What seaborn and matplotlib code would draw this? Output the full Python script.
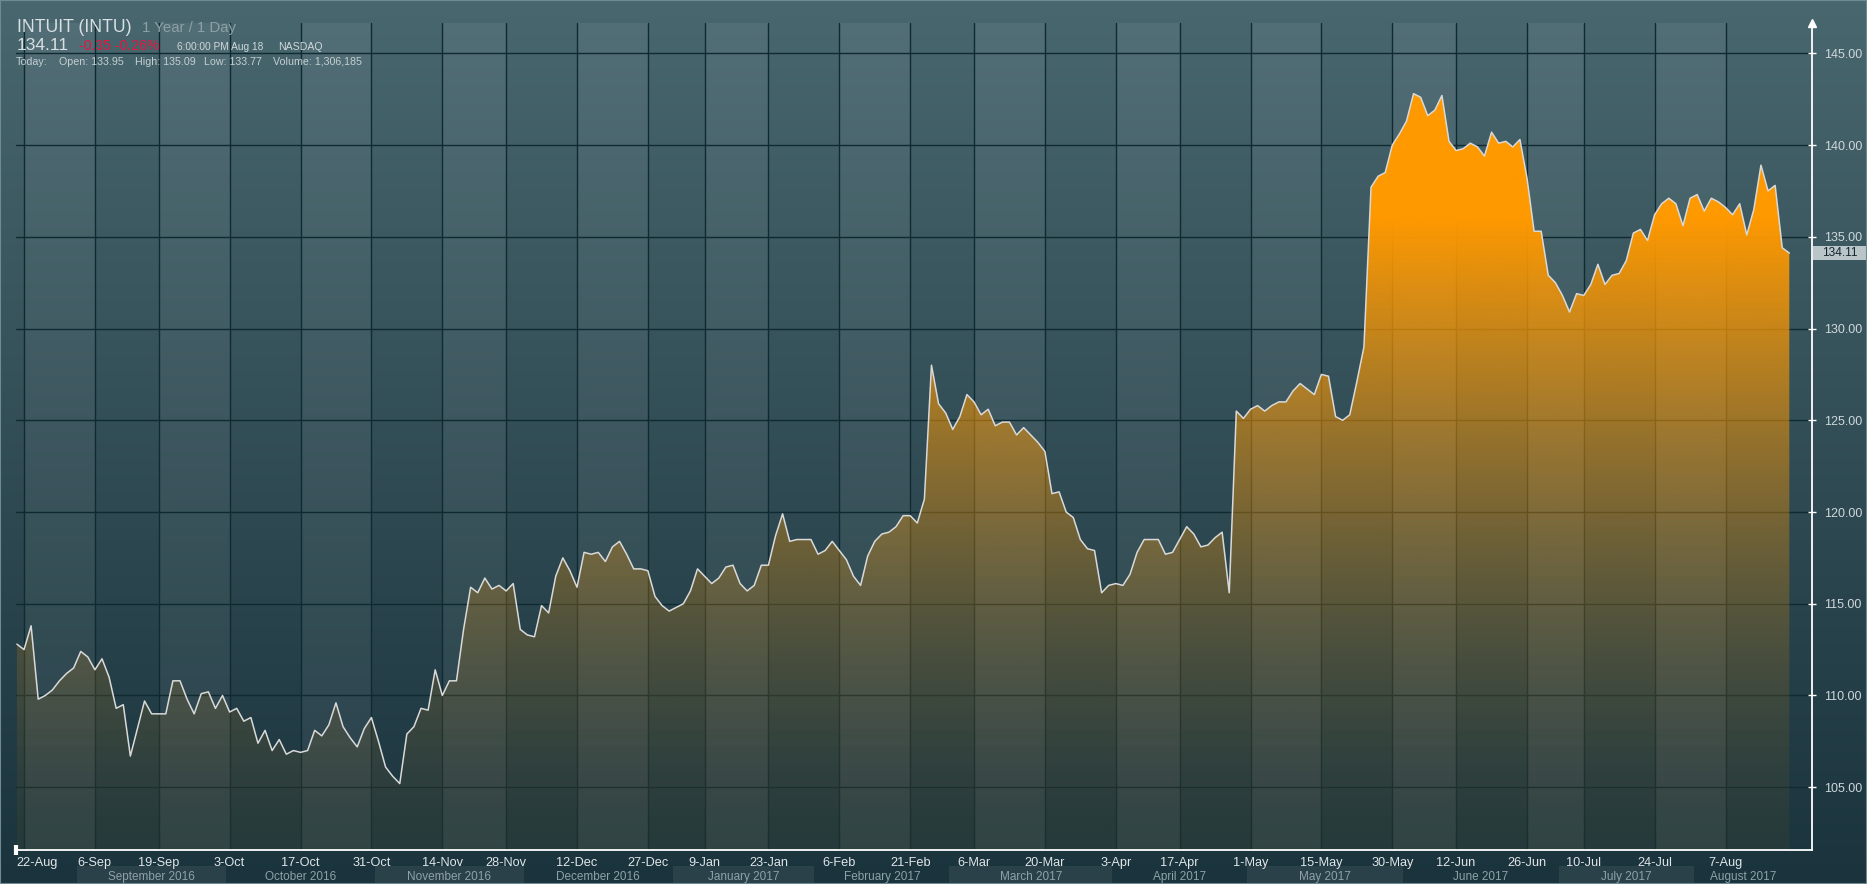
import numpy as np
import pandas as pd
import matplotlib
matplotlib.use("Agg")
import matplotlib.pyplot as plt
import matplotlib.transforms as mtransforms
from matplotlib.patches import Rectangle
import seaborn as sns

sns.set_style("white")
plt.rcParams['font.family'] = ['Liberation Sans', 'DejaVu Sans']

# trading days (NYSE holidays, the feed also skips 3 Jul 2017)
holidays = ["2016-09-05", "2016-11-24", "2016-12-26", "2017-01-02", "2017-01-16",
            "2017-02-20", "2017-04-14", "2017-05-29", "2017-07-03", "2017-07-04"]
dates = pd.bdate_range("2016-08-19", "2017-08-18", freq="C", holidays=holidays)

# closing prices
prices = [112.8, 112.5, 113.8, 109.8, 110.0, 110.3, 110.8, 111.2, 111.5, 112.4, 112.1,
          111.4, 112.0, 111.0, 109.3, 109.5, 106.7, 108.2, 109.7, 109.0, 109.0,
          109.0, 110.8, 110.8, 109.8, 109.0, 110.1, 110.2, 109.3, 110.0, 109.1,
          109.3, 108.6, 108.8, 107.4, 108.1, 107.0, 107.6, 106.8, 107.0, 106.9,
          107.0, 108.1, 107.8, 108.4, 109.6, 108.3, 107.7, 107.2, 108.2, 108.8,
          107.5, 106.1, 105.6, 105.2, 107.9, 108.3, 109.3, 109.2, 111.4, 110.0,
          110.8, 110.8, 113.6, 115.9, 115.6, 116.4, 115.8, 116.0, 115.7, 116.1,
          113.6, 113.3, 113.2, 114.9, 114.5, 116.5, 117.5, 116.8, 115.9, 117.8,
          117.7, 117.8, 117.3, 118.1, 118.4, 117.7, 116.9, 116.9, 116.8, 115.4,
          114.9, 114.6, 114.8, 115.0, 115.7, 116.9, 116.5, 116.1, 116.4, 117.0,
          117.1, 116.1, 115.7, 116.0, 117.1, 117.1, 118.7, 119.9, 118.4, 118.5,
          118.5, 118.5, 117.7, 117.9, 118.4, 117.9, 117.4, 116.5, 116.0, 117.6,
          118.4, 118.8, 118.9, 119.2, 119.8, 119.8, 119.4, 120.7, 128.0, 125.9,
          125.4, 124.5, 125.2, 126.4, 126.0, 125.3, 125.6, 124.7, 124.9, 124.9,
          124.2, 124.6, 124.2, 123.8, 123.3, 121.0, 121.1, 120.0, 119.7, 118.5,
          118.0, 117.9, 115.6, 116.0, 116.1, 116.0, 116.6, 117.8, 118.5, 118.5,
          118.5, 117.7, 117.8, 118.5, 119.2, 118.8, 118.1, 118.2, 118.6, 118.9,
          115.6, 125.5, 125.1, 125.6, 125.8, 125.5, 125.8, 126.0, 126.0, 126.6,
          127.0, 126.7, 126.4, 127.5, 127.4, 125.2, 125.0, 125.3, 127.1, 129.0,
          137.7, 138.3, 138.5, 140.0, 140.6, 141.3, 142.8, 142.6, 141.6, 141.9,
          142.7, 140.2, 139.7, 139.8, 140.1, 139.9, 139.4, 140.7, 140.1, 140.2,
          139.9, 140.3, 138.2, 135.3, 135.3, 132.9, 132.5, 131.8, 130.9, 131.9,
          131.8, 132.4, 133.5, 132.4, 132.9, 133.0, 133.7, 135.2, 135.4, 134.8,
          136.2, 136.8, 137.1, 136.8, 135.6, 137.1, 137.3, 136.4, 137.1, 136.9,
          136.6, 136.2, 136.8, 135.1, 136.5, 138.9, 137.5, 137.8, 134.4, 134.11]

tick_dates = ["2016-08-22", "2016-09-06", "2016-09-19", "2016-10-03", "2016-10-17",
              "2016-10-31", "2016-11-14", "2016-11-28", "2016-12-12", "2016-12-27",
              "2017-01-09", "2017-01-23", "2017-02-06", "2017-02-21", "2017-03-06",
              "2017-03-20", "2017-04-03", "2017-04-17", "2017-05-01", "2017-05-15",
              "2017-05-30", "2017-06-12", "2017-06-26", "2017-07-10", "2017-07-24",
              "2017-08-07"]
tick_labels = ["22-Aug", "6-Sep", "19-Sep", "3-Oct", "17-Oct", "31-Oct", "14-Nov",
               "28-Nov", "12-Dec", "27-Dec", "9-Jan", "23-Jan", "6-Feb", "21-Feb",
               "6-Mar", "20-Mar", "3-Apr", "17-Apr", "1-May", "15-May", "30-May",
               "12-Jun", "26-Jun", "10-Jul", "24-Jul", "7-Aug"]
months = ["2016-09", "2016-10", "2016-11", "2016-12", "2017-01", "2017-02",
          "2017-03", "2017-04", "2017-05", "2017-06", "2017-07", "2017-08"]
month_labels = ["September 2016", "October 2016", "November 2016", "December 2016",
                "January 2017", "February 2017", "March 2017", "April 2017",
                "May 2017", "June 2017", "July 2017", "August 2017"]
y_ticks = [105, 110, 115, 120, 125, 130, 135, 140, 145]

n = min(len(dates), len(prices))
df = pd.DataFrame({"pos": np.arange(n), "date": dates[:n], "price": prices[:n]})
last = df["price"].iloc[-1]

W, H = 1867, 884
fig = plt.figure(figsize=(W / 100, H / 100), dpi=100)

# background gradient
bg = fig.add_axes([0, 0, 1, 1], zorder=-5)
top_c = np.array([73, 103, 111]) / 255
bot_c = np.array([26, 51, 60]) / 255
g = np.linspace(0, 1, 256)[:, None]
bg.imshow((top_c * (1 - g) + bot_c * g)[:, None, :].repeat(2, axis=1),
          aspect="auto", extent=[0, 1, 0, 1])
bg.set_axis_off()
fig.patches.append(Rectangle((0, 0), 1, 1, transform=fig.transFigure, fill=False,
                             ec="#6c8b94", lw=1.5))

ax = fig.add_axes([16 / W, 34 / H, (1812 - 16) / W, (850 - 23) / H])
ax.set_facecolor("none")
ylo, yhi = 101.58, 146.65
x0, x1 = -0.13, 253.2

tick_pos = [df.index[df["date"] == pd.Timestamp(d)][0] for d in tick_dates]

# alternating lighter columns
for k in range(0, len(tick_pos) - 1, 2):
    ax.axvspan(tick_pos[k], tick_pos[k + 1], color="white", alpha=0.055, lw=0, zorder=0.2)

# gradient area fill
poly = ax.fill_between(df["pos"], df["price"], ylo, facecolor="none", edgecolor="none")
pv = np.linspace(ylo, yhi, 300)
t = np.clip((pv - ylo) / (136 - ylo), 0, 1)
grad = np.zeros((300, 1, 4))
grad[:, 0, :3] = np.array([255, 153, 0]) / 255
grad[:, 0, 3] = 0.05 + 0.95 * t ** 1.8
im = ax.imshow(grad, extent=[x0, x1, ylo, yhi], origin="lower", aspect="auto", zorder=2)
im.set_clip_path(poly.get_paths()[0], transform=ax.transData)

sns.lineplot(data=df, x="pos", y="price", ax=ax, color="#d9d9d9", lw=1.1, zorder=3)

ax.set_xlim(x0, x1)
ax.set_ylim(ylo, yhi)
ax.set_xlabel("")
ax.set_ylabel("")

# grid
ax.set_axisbelow(True)
ax.set_xticks(tick_pos)
ax.set_xticklabels([])
ax.yaxis.tick_right()
ax.set_yticks(y_ticks)
ax.set_yticklabels([f"{v:.2f}" for v in y_ticks])
ax.grid(True, color="#102a32", lw=1)
ax.tick_params(axis="x", direction="inout", length=6, width=1, color="white")
ax.tick_params(axis="y", direction="inout", length=6, width=1, color="white",
               labelcolor="#cfd8db", labelsize=9, pad=6)
for s in ["top", "left"]:
    ax.spines[s].set_visible(False)
for s in ["bottom", "right"]:
    ax.spines[s].set_color("white")
    ax.spines[s].set_linewidth(1.3)
ax.plot([1], [1], marker="^", color="white", ms=6, transform=ax.transAxes,
        clip_on=False, zorder=6)
ax.plot([0], [0], marker="|", color="white", ms=7, mew=3, transform=ax.transAxes,
        clip_on=False, zorder=6)

# x tick labels
xt = mtransforms.blended_transform_factory(ax.transData, fig.transFigure)
for k, (p, lab) in enumerate(zip(tick_pos, tick_labels)):
    if k == 0:
        ax.text(x0, (H - 857) / H, lab, transform=xt, ha="left", va="top",
                color="#e1e6e8", fontsize=9.2)
    else:
        ax.text(p, (H - 857) / H, lab, transform=xt, ha="center", va="top",
                color="#e1e6e8", fontsize=9.2)

# month strip
for k, (m, lab) in enumerate(zip(months, month_labels)):
    sel = df.index[df["date"].dt.strftime("%Y-%m") == m]
    a, b = sel.min() - 0.5, sel.max() + 0.5
    if k % 2 == 0:
        ax.add_patch(Rectangle((a, 0), b - a, 18 / H, transform=xt, color="white",
                               alpha=0.07, lw=0, clip_on=False))
    ax.text((a + b) / 2, (H - 877) / H, lab, transform=xt, ha="center", va="center",
            color="#8ea2a8", fontsize=8.5)

# last price box
yt = mtransforms.blended_transform_factory(ax.transAxes, ax.transData)
ax.add_patch(Rectangle((1.0008, last - 0.36), 53 / 1796, 0.72, transform=yt,
                       color="#b9c5c8", lw=0, clip_on=False, zorder=6))
ax.text(1.0008 + 26.5 / 1796, last, f"{last:.2f}", transform=yt, ha="center",
        va="center", color="#15252b", fontsize=8.6, zorder=7)

# header
def head(x, y, s, size, color):
    fig.text(x / W, 1 - y / H, s, fontsize=size, color=color, va="baseline", ha="left")

head(17, 32, "INTUIT (INTU)", 12.7, "#d9e0e3")
head(142, 32, "1 Year / 1 Day", 10.8, "#8ca0a6")
head(17, 50, "134.11", 12.5, "#d9e0e3")
head(79, 50, "-0.35 -0.26%", 10.2, "#e3173e")
head(177, 50, "6:00:00 PM Aug 18", 7.3, "#d0d8db")
head(278, 50, "NASDAQ", 7.6, "#d0d8db")
head(16, 65, "Today:", 7.7, "#c5cfd2")
head(59, 65, "Open: 133.95", 7.7, "#c5cfd2")
head(135, 65, "High: 135.09", 7.7, "#c5cfd2")
head(204, 65, "Low: 133.77", 7.7, "#c5cfd2")
head(273, 65, "Volume: 1,306,185", 7.7, "#c5cfd2")

fig.savefig("out.png", dpi=100)
